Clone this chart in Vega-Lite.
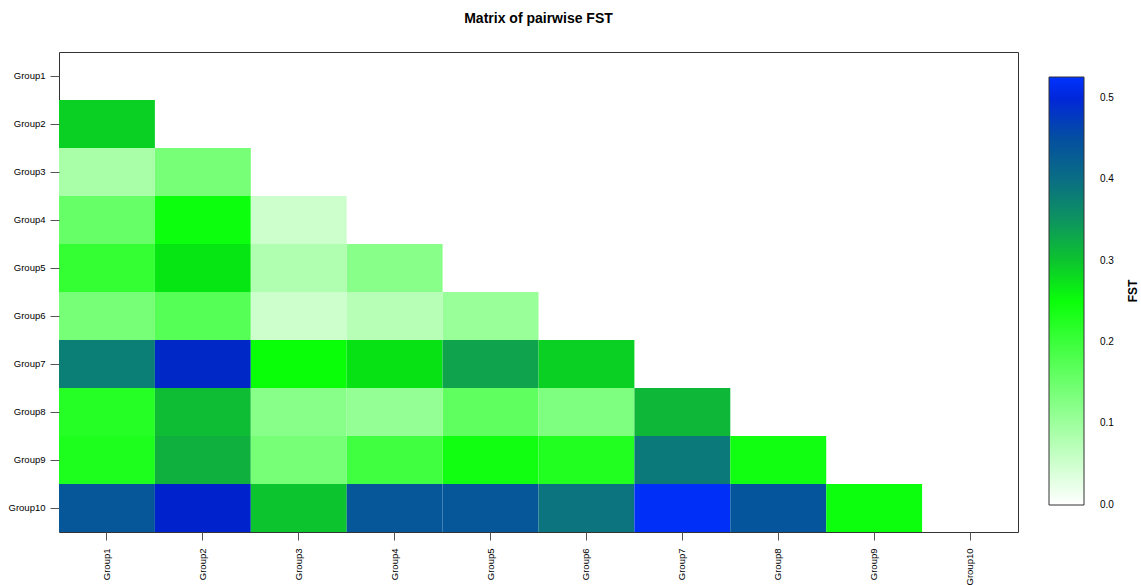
{
  "$schema": "https://vega.github.io/schema/vega-lite/v6.json",
  "width": 959,
  "height": 480,
  "autosize": "none",
  "padding": {"left": 59, "top": 52, "right": 123, "bottom": 53},
  "background": "white",
  "title": {
    "text": "Matrix of pairwise FST",
    "anchor": "middle",
    "font": "Liberation Sans",
    "fontSize": 14,
    "fontWeight": "bold",
    "color": "black",
    "offset": 26
  },
  "config": {
    "view": {"stroke": "#333333", "strokeWidth": 1},
    "axis": {
      "labelFont": "Liberation Sans",
      "labelFontSize": 10,
      "labelColor": "black",
      "tickColor": "#555555",
      "domain": false,
      "grid": false,
      "title": null
    }
  },
  "data": {
    "values": [
      {"row": "Group2", "col": "Group1", "fst": 0.29},
      {"row": "Group3", "col": "Group1", "fst": 0.088},
      {"row": "Group3", "col": "Group2", "fst": 0.138},
      {"row": "Group4", "col": "Group1", "fst": 0.155},
      {"row": "Group4", "col": "Group2", "fst": 0.248},
      {"row": "Group4", "col": "Group3", "fst": 0.052},
      {"row": "Group5", "col": "Group1", "fst": 0.208},
      {"row": "Group5", "col": "Group2", "fst": 0.275},
      {"row": "Group5", "col": "Group3", "fst": 0.08},
      {"row": "Group5", "col": "Group4", "fst": 0.121},
      {"row": "Group6", "col": "Group1", "fst": 0.138},
      {"row": "Group6", "col": "Group2", "fst": 0.173},
      {"row": "Group6", "col": "Group3", "fst": 0.052},
      {"row": "Group6", "col": "Group4", "fst": 0.073},
      {"row": "Group6", "col": "Group5", "fst": 0.104},
      {"row": "Group7", "col": "Group1", "fst": 0.378},
      {"row": "Group7", "col": "Group2", "fst": 0.485},
      {"row": "Group7", "col": "Group3", "fst": 0.252},
      {"row": "Group7", "col": "Group4", "fst": 0.277},
      {"row": "Group7", "col": "Group5", "fst": 0.33},
      {"row": "Group7", "col": "Group6", "fst": 0.29},
      {"row": "Group8", "col": "Group1", "fst": 0.222},
      {"row": "Group8", "col": "Group2", "fst": 0.305},
      {"row": "Group8", "col": "Group3", "fst": 0.121},
      {"row": "Group8", "col": "Group4", "fst": 0.109},
      {"row": "Group8", "col": "Group5", "fst": 0.162},
      {"row": "Group8", "col": "Group6", "fst": 0.13},
      {"row": "Group8", "col": "Group7", "fst": 0.31},
      {"row": "Group9", "col": "Group1", "fst": 0.23},
      {"row": "Group9", "col": "Group2", "fst": 0.315},
      {"row": "Group9", "col": "Group3", "fst": 0.138},
      {"row": "Group9", "col": "Group4", "fst": 0.195},
      {"row": "Group9", "col": "Group5", "fst": 0.243},
      {"row": "Group9", "col": "Group6", "fst": 0.227},
      {"row": "Group9", "col": "Group7", "fst": 0.385},
      {"row": "Group9", "col": "Group8", "fst": 0.243},
      {"row": "Group10", "col": "Group1", "fst": 0.44},
      {"row": "Group10", "col": "Group2", "fst": 0.49},
      {"row": "Group10", "col": "Group3", "fst": 0.3},
      {"row": "Group10", "col": "Group4", "fst": 0.44},
      {"row": "Group10", "col": "Group5", "fst": 0.44},
      {"row": "Group10", "col": "Group6", "fst": 0.392},
      {"row": "Group10", "col": "Group7", "fst": 0.52},
      {"row": "Group10", "col": "Group8", "fst": 0.445},
      {"row": "Group10", "col": "Group9", "fst": 0.248}
    ]
  },
  "mark": {"type": "rect"},
  "encoding": {
    "x": {
      "field": "col",
      "type": "nominal",
      "scale": {
        "domain": ["Group1", "Group2", "Group3", "Group4", "Group5", "Group6", "Group7", "Group8", "Group9", "Group10"],
        "paddingInner": 0,
        "paddingOuter": 0
      },
      "axis": {"labelAngle": -90, "tickSize": 8, "labelPadding": 8, "labelFontSize": 9.5}
    },
    "y": {
      "field": "row",
      "type": "nominal",
      "scale": {
        "domain": ["Group1", "Group2", "Group3", "Group4", "Group5", "Group6", "Group7", "Group8", "Group9", "Group10"],
        "paddingInner": 0,
        "paddingOuter": 0
      },
      "axis": {"tickSize": 9, "labelPadding": 5, "labelFontSize": 9.5}
    },
    "color": {
      "field": "fst",
      "type": "quantitative",
      "scale": {
        "type": "linear",
        "domain": [-0.0005, 0.26, 0.28, 0.32, 0.36, 0.405, 0.446, 0.49, 0.526],
        "range": ["#ffffff", "#00ff00", "#08dd18", "#11aa44", "#0c8c68", "#0a6a88", "#04549c", "#0022cc", "#0033ff"],
        "interpolate": "rgb"
      },
      "legend": {
        "orient": "none",
        "legendX": 990,
        "legendY": 25,
        "direction": "vertical",
        "title": "FST",
        "titleOrient": "right",
        "titleFont": "Liberation Sans",
        "titleFontSize": 12,
        "titleFontWeight": "bold",
        "titleColor": "black",
        "titlePadding": 14,
        "titleAnchor": "middle",
        "gradientLength": 428,
        "gradientThickness": 35,
        "gradientStrokeColor": "#333333",
        "gradientStrokeWidth": 1,
        "values": [0, 0.1, 0.2, 0.3, 0.4, 0.5],
        "format": ".1f",
        "labelFont": "Liberation Sans",
        "labelFontSize": 10,
        "labelColor": "black",
        "labelOffset": 16,
        "labelBaseline": "middle",
        "padding": 0,
        "encoding": {
          "title": {"angle": {"value": -90}, "baseline": {"value": "top"}}
        }
      }
    }
  }
}
